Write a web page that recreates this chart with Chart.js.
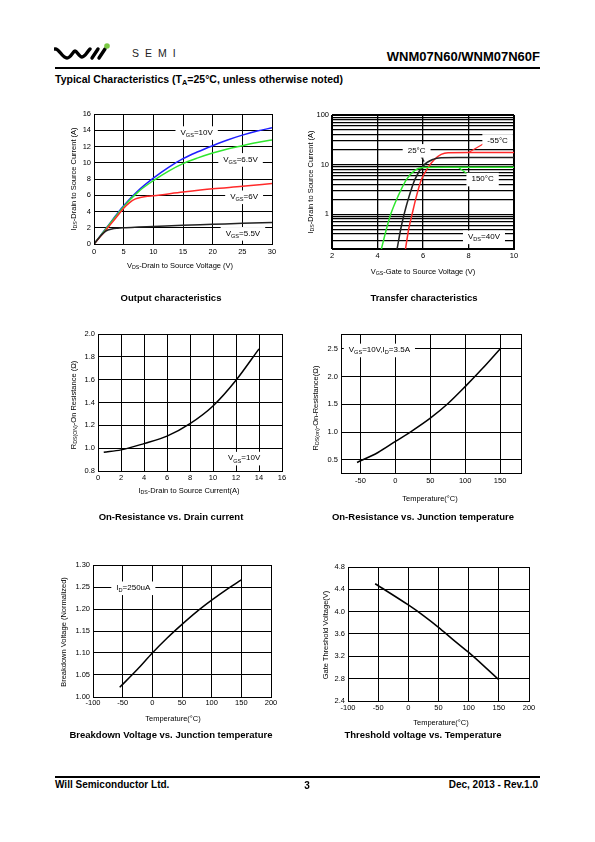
<!DOCTYPE html>
<html>
<head>
<meta charset="utf-8">
<script src="https://cdn.jsdelivr.net/npm/chart.js@4.4.0/dist/chart.umd.min.js"></script>
<style>
  body { margin: 0; width: 595px; height: 842px; background: #fff; position: relative; overflow: hidden;
         font-family: "Liberation Sans", Arial, Helvetica, sans-serif; color: #000; }
  canvas { position: absolute; }
  .t { position: absolute; white-space: nowrap; }
  .c { position: absolute; white-space: nowrap; transform: translate(-50%, -50%); }
  .cap { font-weight: bold; font-size: 9.5px; }
  .ax { font-size: 7.5px; }
  .ay { font-size: 7.5px; transform: translate(-50%, -50%) rotate(-90deg); }
  sub { font-size: 70%; vertical-align: -0.3em; line-height: 0; }
  .rule { position: absolute; left: 55px; width: 485px; background: #000; }
</style>
</head>
<body>

<svg class="t" style="left:54px;top:42px" width="60" height="22" viewBox="0 0 60 22">
  <path d="M1 7 C5 6 8 16 13 16 C17 16 19 9 21 9 C23 9 25 15 28 15 C31 15 33 10 36 7" fill="none" stroke="#000" stroke-width="3.4" stroke-linecap="round"/>
  <path d="M38 16 L44 7 M45 16 L51 7" fill="none" stroke="#000" stroke-width="3.4" stroke-linecap="round"/>
  <circle cx="53" cy="4" r="2.8" fill="#7ac943"/>
</svg>
<div class="t" style="left:132px;top:47px;font-size:10.5px;letter-spacing:6px;color:#222">SEMI</div>
<div class="t" style="right:55px;top:49px;font-size:13px;font-weight:bold">WNM07N60/WNM07N60F</div>
<div class="rule" style="top:67px;height:1.5px"></div>
<div class="t" style="left:55px;top:73px;font-size:10.5px;font-weight:bold">Typical Characteristics (T<sub>A</sub>=25°C, unless otherwise noted)</div>

<canvas id="c1"></canvas>
<canvas id="c2"></canvas>
<canvas id="c3"></canvas>
<canvas id="c4"></canvas>
<canvas id="c5"></canvas>
<canvas id="c6"></canvas>

<div class="c ay" style="left:73px;top:179px">I<sub>DS</sub>-Drain to Source Current (A)</div>
<div class="c ax" style="left:180px;top:265px">V<sub>DS</sub>-Drain to Source Voltage (V)</div>
<div class="c ay" style="left:310px;top:182px">I<sub>DS</sub>-Drain to Source Current (A)</div>
<div class="c ax" style="left:423px;top:271px">V<sub>GS</sub>-Gate to Source Voltage (V)</div>
<div class="c ay" style="left:73px;top:405px">R<sub>DS(ON)</sub>-On Resistance (Ω)</div>
<div class="c ax" style="left:189px;top:490px">I<sub>DS</sub>-Drain to Source Current(A)</div>
<div class="c ay" style="left:315px;top:408px">R<sub>DS(on)</sub>-On-Resistance(Ω)</div>
<div class="c ax" style="left:430px;top:498px">Temperature(°C)</div>
<div class="c ay" style="left:63px;top:632px">Breakdown Voltage (Normalized)</div>
<div class="c ax" style="left:173px;top:718px">Temperature(°C)</div>
<div class="c ay" style="left:325px;top:635px">Gate Threshold Voltage(V)</div>
<div class="c ax" style="left:441px;top:722px">Temperature(°C)</div>

<div class="c cap" style="left:171px;top:297px">Output characteristics</div>
<div class="c cap" style="left:424px;top:297px">Transfer characteristics</div>
<div class="c cap" style="left:171px;top:516px">On-Resistance vs. Drain current</div>
<div class="c cap" style="left:423px;top:516px">On-Resistance vs. Junction temperature</div>
<div class="c cap" style="left:171px;top:734px">Breakdown Voltage vs. Junction temperature</div>
<div class="c cap" style="left:423px;top:734px">Threshold voltage vs. Temperature</div>

<div class="rule" style="top:776px;height:2px"></div>
<div class="t" style="left:55px;top:779px;font-size:10px;font-weight:bold">Will Semiconductor Ltd.</div>
<div class="c" style="left:307px;top:785px;font-size:10px;font-weight:bold">3</div>
<div class="t" style="right:57px;top:779px;font-size:10px;font-weight:bold">Dec, 2013 - Rev.1.0</div>

<script>
const FONT = '"Liberation Sans", Arial, Helvetica, sans-serif';

// Output characteristics (Id vs Vds)
const outVds = [0, 2, 5, 7.5, 10, 12.5, 15, 17.5, 20, 22.5, 25, 27.5, 30];
const outId10V = [0, 1.9, 4.7, 6.6, 8.1, 9.4, 10.5, 11.35, 12.1, 12.8, 13.4, 13.9, 14.3];
const outId65V = [0, 1.85, 4.6, 6.45, 7.8, 8.95, 9.9, 10.6, 11.2, 11.7, 12.1, 12.5, 12.8];
const outVds6 = [0, 1, 2, 3, 4, 5, 6, 7, 8, 9, 10, 15, 20, 25, 30];
const outId6V = [0, 0.85, 1.7, 2.6, 3.5, 4.4, 5.1, 5.55, 5.75, 5.88, 5.95, 6.4, 6.8, 7.1, 7.45];
const outVds55 = [0, 1, 2, 3, 4, 5, 7.5, 10, 15, 20, 25, 30];
const outId55V = [0, 0.9, 1.6, 1.85, 1.95, 2.0, 2.08, 2.15, 2.3, 2.42, 2.55, 2.65];
const outXTicks = [0, 5, 10, 15, 20, 25, 30];
const outYTicks = [0, 2, 4, 6, 8, 10, 12, 14, 16];

// Transfer characteristics (Id vs Vgs, log)
const trVgs150 = [4.17, 4.39, 4.58, 4.9, 5.27, 5.64, 6.0, 7.0, 10];
const trId150 = [0.2, 0.5, 1.0, 2.3, 5.0, 7.7, 8.8, 8.85, 8.85];
const trVgs25 = [4.86, 5.02, 5.17, 5.39, 5.64, 6.0, 6.44, 6.8, 7.5, 10];
const trId25 = [0.2, 0.5, 1.0, 2.3, 5.0, 9.4, 12.8, 13.8, 13.9, 13.9];
const trVgsM55 = [5.23, 5.37, 5.52, 5.71, 5.93, 6.22, 6.51, 6.8, 7.1, 8, 10];
const trIdM55 = [0.2, 0.5, 1.0, 2.3, 5.0, 8.7, 12.8, 16.1, 17.4, 17.5, 17.5];
const trXTicks = [2, 4, 6, 8, 10];
const trYTicks = [0.2, 0.3, 0.4, 0.5, 0.6, 0.7, 0.8, 0.9, 1, 2, 3, 4, 5, 6, 7, 8, 9, 10, 20, 30, 40, 50, 60, 70, 80, 90, 100];
const trYLabels = [1, 10, 100];

// On-resistance vs drain current
const rdsId = [0.5, 2, 4, 6, 8, 10, 12, 14];
const rdsVsId = [0.965, 0.985, 1.04, 1.105, 1.215, 1.37, 1.595, 1.87];
const rdsIdXTicks = [0, 2, 4, 6, 8, 10, 12, 14, 16];
const rdsIdYTicks = [0.8, 1.0, 1.2, 1.4, 1.6, 1.8, 2.0];

// On-resistance vs junction temperature
const rdsTemp = [-55, -25, 0, 25, 50, 75, 100, 125, 150];
const rdsVsTemp = [0.45, 0.63, 0.83, 1.03, 1.25, 1.51, 1.82, 2.15, 2.5];
const rdsTXTicks = [-50, 0, 50, 100, 150];
const rdsTYTicks = [0.5, 1.0, 1.5, 2.0, 2.5];

// Breakdown voltage vs junction temperature
const bvTemp = [-55, -25, 0, 25, 50, 75, 100, 125, 150];
const bvNorm = [1.022, 1.063, 1.10, 1.134, 1.165, 1.194, 1.22, 1.244, 1.266];
const tempTicks = [-100, -50, 0, 50, 100, 150, 200];
const bvYTicks = [1.00, 1.05, 1.10, 1.15, 1.20, 1.25, 1.30];

// Threshold voltage vs temperature
const vthTemp = [-55, 0, 25, 50, 75, 100, 125, 150];
const vthVolt = [4.5, 4.12, 3.93, 3.72, 3.49, 3.27, 3.03, 2.78];
const vthYTicks = [2.4, 2.8, 3.2, 3.6, 4.0, 4.4, 4.8];

const pts = (xs, ys) => xs.map((x, i) => ({ x: x, y: ys[i] }));

function drawRich(ctx, s, cx, cy, size, box) {
  const parts = [];
  const re = /([_^])\{([^}]*)\}|([^_^]+)/g;
  let m;
  while ((m = re.exec(s))) parts.push(m[3] ? { t: m[3], k: 0 } : { t: m[2], k: m[1] === '_' ? 1 : -1 });
  const font = k => (k ? size * 0.7 : size) + 'px ' + FONT;
  let w = 0;
  parts.forEach(p => { ctx.font = font(p.k); p.w = ctx.measureText(p.t).width; w += p.w; });
  let x = cx - w / 2;
  if (box) {
    ctx.fillStyle = '#fff';
    ctx.fillRect(x - 5, cy - size * 0.8, w + 10, size * 1.7);
  }
  ctx.fillStyle = '#000';
  ctx.textBaseline = 'middle';
  ctx.textAlign = 'left';
  parts.forEach(p => { ctx.font = font(p.k); ctx.fillText(p.t, x, cy + p.k * size * 0.35); x += p.w; });
}

const framePlugin = {
  id: 'frame',
  afterDatasetsDraw(chart, args, opts) {
    const { ctx, chartArea: a, scales } = chart;
    ctx.save();
    (opts.leaders || []).forEach(l => {
      ctx.strokeStyle = l.color;
      ctx.lineWidth = 1.2;
      ctx.beginPath();
      ctx.moveTo(scales.x.getPixelForValue(l.from[0]), scales.y.getPixelForValue(l.from[1]));
      ctx.lineTo(scales.x.getPixelForValue(l.to[0]), scales.y.getPixelForValue(l.to[1]));
      ctx.stroke();
    });
    (opts.notes || []).forEach(n => {
      drawRich(ctx, n.text, scales.x.getPixelForValue(n.x), scales.y.getPixelForValue(n.y), 8, true);
    });
    ctx.strokeStyle = '#000';
    ctx.lineWidth = 1;
    ctx.strokeRect(Math.round(a.left) + 0.5, Math.round(a.top) + 0.5, Math.round(a.right - a.left), Math.round(a.bottom - a.top));
    ctx.restore();
  }
};

function makeChart(id, plot, cfg) {
  const M = { l: 40, t: 10, r: 10, b: 32 };
  const cv = document.getElementById(id);
  cv.width = plot[2] - plot[0] + M.l + M.r;
  cv.height = plot[3] - plot[1] + M.t + M.b;
  cv.style.left = (plot[0] - M.l) + 'px';
  cv.style.top = (plot[1] - M.t) + 'px';

  const axis = (type, range, ticks, fmt, pad, fit) => ({
    type: type, min: range[0], max: range[1],
    afterBuildTicks: s => { s.ticks = ticks.map(v => ({ value: v })); },
    afterFit: fit,
    grid: { color: '#000', lineWidth: cfg.gridWidth || 1, drawTicks: false },
    border: { display: false },
    ticks: { color: '#000', font: { family: FONT, size: 7.5 }, padding: pad,
             autoSkip: false, maxRotation: 0, callback: fmt }
  });

  return new Chart(cv, {
    type: 'line',
    data: {
      datasets: cfg.series.map(s => ({
        data: s.data, borderColor: s.color, borderWidth: 1.5, pointRadius: 0,
        fill: false, cubicInterpolationMode: 'monotone'
      }))
    },
    options: {
      responsive: false, animation: false, devicePixelRatio: 1,
      layout: { padding: { top: M.t, right: M.r, left: 0, bottom: 0 } },
      plugins: {
        legend: { display: false }, tooltip: { enabled: false },
        frame: { notes: cfg.notes, leaders: cfg.leaders }
      },
      scales: {
        x: axis('linear', cfg.xRange, cfg.xTicks, cfg.xFmt, cfg.xPad || 3, s => { s.height = M.b; }),
        y: axis(cfg.yType || 'linear', cfg.yRange, cfg.yTicks, cfg.yFmt, 3, s => { s.width = M.l; })
      }
    },
    plugins: [framePlugin]
  });
}

const plain = v => String(v);

makeChart('c1', [94, 114, 272, 244], {
  series: [
    { data: pts(outVds55, outId55V), color: '#222222' },
    { data: pts(outVds6, outId6V), color: '#ff2a2a' },
    { data: pts(outVds, outId65V), color: '#2ee62e' },
    { data: pts(outVds, outId10V), color: '#1f1fff' }
  ],
  xRange: [0, 30], xTicks: outXTicks, xFmt: plain,
  yRange: [0, 16], yTicks: outYTicks, yFmt: plain,
  notes: [
    { x: 17.3, y: 13.7, text: 'V_{GS}=10V' },
    { x: 24.7, y: 10.4, text: 'V_{GS}=6.5V' },
    { x: 25.3, y: 5.8, text: 'V_{GS}=6V' },
    { x: 25.1, y: 1.3, text: 'V_{GS}=5.5V' }
  ]
});

makeChart('c2', [332, 115, 514, 249], {
  gridWidth: 1.3,
  series: [
    { data: pts(trVgs150, trId150), color: '#2ee62e' },
    { data: pts(trVgs25, trId25), color: '#222222' },
    { data: pts(trVgsM55, trIdM55), color: '#ff2a2a' }
  ],
  xRange: [2, 10], xTicks: trXTicks, xFmt: plain, xPad: 2,
  yType: 'logarithmic', yRange: [0.2, 100], yTicks: trYTicks,
  yFmt: v => (trYLabels.includes(v) ? String(v) : ''),
  leaders: [
    { from: [8.0, 17.5], to: [8.7, 27], color: '#ff2a2a' },
    { from: [5.88, 15.5], to: [6.05, 11.5], color: '#222222' },
    { from: [7.55, 8.85], to: [8.1, 5.8], color: '#2ee62e' }
  ],
  notes: [
    { x: 9.28, y: 30.6, text: '-55°C' },
    { x: 5.72, y: 19.3, text: '25°C' },
    { x: 8.62, y: 5.1, text: '150°C' },
    { x: 8.68, y: 0.35, text: 'V_{DS}=40V' }
  ]
});

makeChart('c3', [98, 334, 282, 471], {
  series: [{ data: pts(rdsId, rdsVsId), color: '#000' }],
  xRange: [0, 16], xTicks: rdsIdXTicks, xFmt: plain, xPad: 2,
  yRange: [0.8, 2.0], yTicks: rdsIdYTicks, yFmt: v => v.toFixed(1),
  notes: [{ x: 12.7, y: 0.912, text: 'V_{GS}=10V' }]
});

makeChart('c4', [341, 334, 521, 473], {
  series: [{ data: pts(rdsTemp, rdsVsTemp), color: '#000' }],
  xRange: [-78, 180], xTicks: rdsTXTicks, xFmt: plain,
  yRange: [0.26, 2.77], yTicks: rdsTYTicks, yFmt: v => v.toFixed(1),
  notes: [{ x: -23, y: 2.48, text: 'V_{GS}=10V,I_{D}=3.5A' }]
});

makeChart('c5', [93, 565, 271, 697], {
  series: [{ data: pts(bvTemp, bvNorm), color: '#000' }],
  xRange: [-100, 200], xTicks: tempTicks, xFmt: plain, xPad: 1,
  yRange: [1.0, 1.3], yTicks: bvYTicks, yFmt: v => v.toFixed(2),
  notes: [{ x: -32, y: 1.248, text: 'I_{D}=250uA' }]
});

makeChart('c6', [348, 567, 529, 701], {
  series: [{ data: pts(vthTemp, vthVolt), color: '#000' }],
  xRange: [-100, 200], xTicks: tempTicks, xFmt: plain, xPad: 2,
  yRange: [2.4, 4.8], yTicks: vthYTicks, yFmt: v => v.toFixed(1)
});
</script>
</body>
</html>
